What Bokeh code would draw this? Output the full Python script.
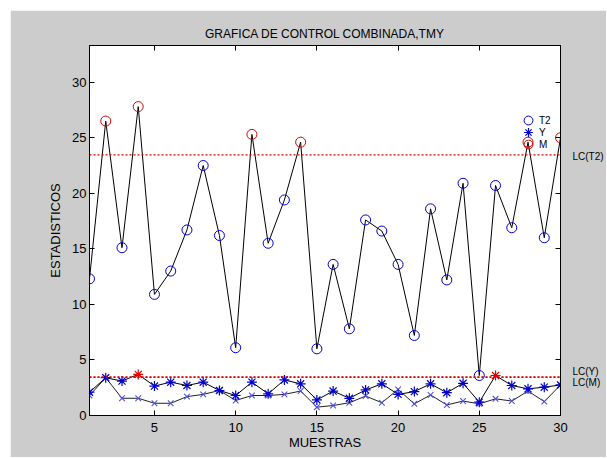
import numpy as np
from bokeh.plotting import figure
from bokeh.models import (Span, LinearAxis, Legend, LegendItem,
                          Range1d, FixedTicker)
from bokeh.embed import file_html
from bokeh.resources import INLINE

# ---------------- data ----------------
muestras = list(range(1, 31))
t2_stat = [12.3, 26.5, 15.1, 27.8, 10.9, 13.0, 16.7, 22.5, 16.2, 6.1,
           25.3, 15.5, 19.4, 24.6, 6.0, 13.6, 7.8, 17.6, 16.6, 13.6,
           7.2, 18.6, 12.2, 20.9, 3.6, 20.7, 16.9, 24.6, 16.0, 25.0]
y_stat = [2.1, 3.4, 3.1, 3.7, 2.65, 3.0, 2.7, 3.0, 2.25, 1.8,
          3.0, 1.95, 3.2, 2.85, 1.4, 2.2, 1.55, 2.3, 2.85, 1.9,
          2.15, 2.85, 2.05, 2.9, 1.2, 3.6, 2.7, 2.4, 2.55, 2.75]
m_stat = [1.8, 3.4, 1.55, 1.55, 1.1, 1.1, 1.7, 1.9, 2.25, 1.35,
          1.8, 1.8, 1.9, 2.2, 0.75, 0.9, 1.15, 1.75, 1.15, 2.35,
          1.05, 1.85, 0.95, 1.3, 1.05, 1.5, 1.3, 2.2, 1.25, 2.75]
lc_t2 = 23.45
lc_y = 3.47
lc_m = 3.43
lc_names = ["LC(T2)", "LC(Y)", "LC(M)"]
x_ticks = [5, 10, 15, 20, 25, 30]
y_ticks = [0, 5, 10, 15, 20, 25, 30]

FONT = "Liberation Sans"
BLUE = "#0000d0"
RED = "#dd0000"
GRAY_BG = "#cccccc"

x = np.array(muestras)
t2 = np.array(t2_stat)
ys = np.array(y_stat)
ms = np.array(m_stat)
hi_t2 = t2 > lc_t2
hi_y = ys > lc_y

p = figure(width=596, height=447, output_backend="svg", toolbar_location=None,
           x_range=Range1d(1, 30), y_range=Range1d(0, 33.3),
           min_border_left=79, min_border_right=45, min_border_top=35,
           min_border_bottom=42, margin=(10, 0, 0, 10))
p.border_fill_color = GRAY_BG
p.background_fill_color = "white"
p.outline_line_color = "black"
p.outline_line_width = 1
p.grid.visible = False

p.title.text = "GRAFICA DE CONTROL COMBINADA,TMY"
p.title.align = "center"
p.title.text_font = FONT
p.title.text_font_size = "12px"
p.title.text_font_style = "normal"
p.title.text_color = "black"
p.title.standoff = 9

for ax, ticks in ((p.xaxis[0], x_ticks), (p.yaxis[0], y_ticks)):
    ax.ticker = FixedTicker(ticks=ticks)
    ax.major_tick_in = 5
    ax.major_tick_out = 0
    ax.minor_tick_line_color = None
    ax.major_label_text_font = FONT
    ax.major_label_text_font_size = "13px"
    ax.major_label_text_color = "black"
    ax.axis_label_text_font = FONT
    ax.axis_label_text_font_size = "13px"
    ax.axis_label_text_font_style = "normal"
    ax.axis_label_text_color = "black"
    ax.axis_line_color = "black"
    ax.major_tick_line_color = "black"

p.xaxis.axis_label = "MUESTRAS"
p.yaxis.axis_label = "ESTADISTICOS"
p.xaxis.major_label_standoff = 7
p.xaxis.axis_label_standoff = 0
p.yaxis.major_label_standoff = 3
p.yaxis.axis_label_standoff = 6

# inward ticks on the top and right sides (no labels drawn)
top_ax = LinearAxis(ticker=FixedTicker(ticks=x_ticks), major_tick_in=5, major_tick_out=0,
                    minor_tick_line_color=None, major_label_text_font_size="1px",
                    major_label_text_color=None, major_label_standoff=0)
right_ax = LinearAxis(ticker=FixedTicker(ticks=y_ticks), major_tick_in=5, major_tick_out=0,
                      minor_tick_line_color=None, major_label_text_font_size="1px",
                      major_label_text_color=None, major_label_standoff=0)
p.add_layout(top_ax, "above")
p.add_layout(right_ax, "right")

# control limit labels in the right margin
lc_label_pos = [round(lc_t2 - 0.1, 2), round(lc_y + 0.5, 2), round(lc_m - 0.5, 2)]
lc_ax = LinearAxis(ticker=FixedTicker(ticks=lc_label_pos),
                   major_label_overrides=dict(zip(lc_label_pos, lc_names)),
                   major_tick_in=0, major_tick_out=0, major_tick_line_color=None,
                   minor_tick_line_color=None, axis_line_color=None,
                   major_label_standoff=12, major_label_text_font=FONT,
                   major_label_text_font_size="10px", major_label_text_color="black")
p.add_layout(lc_ax, "right")

# control limits
for lc in (lc_t2, lc_y, lc_m):
    p.add_layout(Span(location=lc, dimension="width", line_color=RED,
                      line_dash="2 2", line_width=1.2))

# lines
p.line(x, ms, line_color="#222222", line_width=1)
p.line(x, ys, line_color="black", line_width=1)
p.line(x, t2, line_color="black", line_width=1)

# markers
r_m = p.scatter(x, ms, marker="x", size=8, line_color="#5050e8", line_width=1.1)
r_y = p.scatter(x[~hi_y], ys[~hi_y], marker="asterisk", size=10, line_color=BLUE, line_width=1.2)
r_y_hi = p.scatter(x[hi_y], ys[hi_y], marker="asterisk", size=10, line_color=RED, line_width=1.2)
r_t2 = p.scatter(x[~hi_t2], t2[~hi_t2], marker="circle", size=10, fill_color=None,
                 line_color=BLUE, line_width=1)
r_t2_hi = p.scatter(x[hi_t2], t2[hi_t2], marker="circle", size=10, fill_color=None,
                    line_color=RED, line_width=1)

# legend: one entry per box so rows can sit close together
for lab, rend, ypos in (("T2", r_t2, 284), ("Y", r_y, 272), ("M", r_t2_hi, 260)):
    lg = Legend(items=[LegendItem(label=lab, renderers=[rend])],
                location=(428, ypos), border_line_color=None, background_fill_alpha=0,
                glyph_width=22, glyph_height=22, label_height=11, spacing=0,
                padding=0, margin=0, label_standoff=-4,
                label_text_font=FONT, label_text_font_size="10px",
                label_text_color="black")
    p.add_layout(lg)

open("out.html", "w").write(file_html(p, INLINE))
